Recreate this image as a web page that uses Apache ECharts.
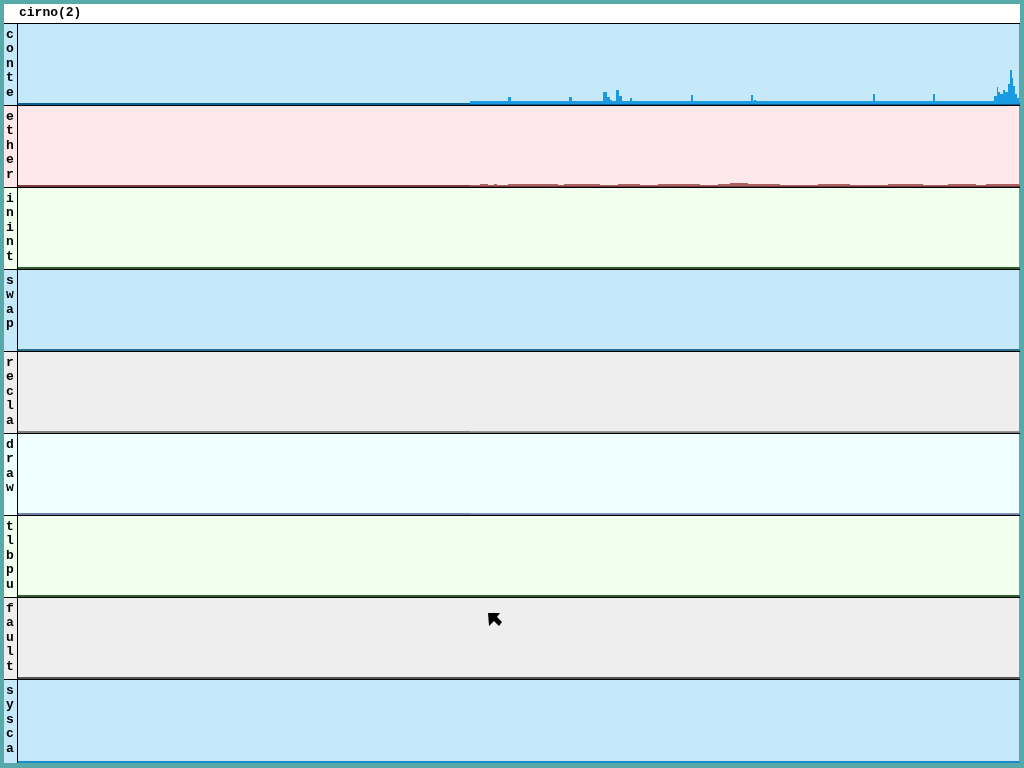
<!DOCTYPE html>
<html><head><meta charset="utf-8">
<script src="https://cdn.jsdelivr.net/npm/echarts@6/dist/echarts.min.js"></script>
<style>html,body{margin:0;padding:0;background:#58AAAA;}#c{width:1024px;height:768px;}</style>
</head><body><div id="c"></div>
<script>
// Panel names (stats graphs)
const panels = ['conte','ether','inint','swap','recla','draw','tlbpu','fault','sysca'];
const windowTitle = 'cirno(2)';
// Samples as [sampleIndex, value] run-lengths (value holds until next sample)
const conteData = [[0,0],[452,3],[490,7],[493,3],[551,7],[554,3],[585,12],[589,7],[592,4],[594,3],[598,14],[601,8],[604,3],[612,6],[614,3],[673,9],[675,3],[733,9],[735,3],[736,4],[738,3],[855,10],[857,3],[915,10],[917,3],[976,8],[979,17],[980,12],[982,10],[985,14],[987,12],[990,20],[992,34],[994,26],[995,18],[997,10],[999,6],[1001,6]];
const etherData = [[0,0],[452,1],[462,2],[470,1],[476,2],[479,1],[490,2],[540,1],[546,2],[582,1],[600,2],[622,1],[640,2],[682,1],[700,2],[712,3],[730,2],[762,1],[800,2],[832,1],[870,2],[905,1],[930,2],[958,1],[968,2],[1001,2]];
const inintData = [[0,0],[1001,0]];
const swapData = [[0,0],[1001,0]];
const reclaData = [[0,0],[452,1],[1001,1]];
const drawData = [[0,0],[452,1],[1001,1]];
const tlbpuData = [[0,0],[1001,0]];
const faultData = [[0,0],[1001,0]];
const syscaData = [[0,0],[1001,0]];
const seriesValues = [conteData, etherData, inintData, swapData, reclaData, drawData, tlbpuData, faultData, syscaData];

const styles = [
  {bg:'#C6E9FA', area:'#1A9AE0', line:'#0A5F98'},
  {bg:'#FFE8EC', area:'#A86060', line:'#7C3A3A'},
  {bg:'#F0FFEE', area:'#70A070', line:'#2F5B2F'},
  {bg:'#C6E9FA', area:'#3A8EB8', line:'#2A6E90'},
  {bg:'#EEEEEE', area:'#999999', line:'#808080'},
  {bg:'#F0FFFF', area:'#8898C0', line:'#7080A8'},
  {bg:'#F0FFEE', area:'#70A070', line:'#2F5B2F'},
  {bg:'#EEEEEE', area:'#777777', line:'#555555'},
  {bg:'#C6E9FA', area:'#1A9AE0', line:'#1A8AC8'}
];
// run-lengths -> [start, end, value] items
function runs(r){
  const out = [];
  for (let k = 0; k + 1 < r.length; k++) if (r[k][1] > 0) out.push([r[k][0], r[k+1][0], r[k][1]]);
  return out;
}
const TOP0 = 24, STEP = 82, H = 80;
const grid = [], xAxis = [], yAxis = [], series = [], graphic = [];
graphic.push({type:'rect', shape:{x:4,y:4,width:1016,height:19}, style:{fill:'#FFFFFF'}, z:0});
graphic.push({type:'text', x:19, y:6, style:{text:windowTitle, font:'bold 13px "Liberation Mono"', fill:'#000'}, z:10});
panels.forEach((name, i) => {
  const top = TOP0 + STEP*i;
  const h = i === panels.length-1 ? 82 : H;
  grid.push({left:18, right:5, top:top, height:h, show:true, backgroundColor:styles[i].bg, borderWidth:0});
  xAxis.push({type:'value', gridIndex:i, min:0, max:1001, show:true,
    axisLine:{show:true, onZero:false, lineStyle:{color:styles[i].line, width:2}},
    axisTick:{show:false}, axisLabel:{show:false}, splitLine:{show:false}});
  yAxis.push({type:'value', gridIndex:i, min:0, max:80, show:false, splitLine:{show:false}});
  const col = styles[i].area;
  series.push({type:'custom', xAxisIndex:i, yAxisIndex:i, data:runs(seriesValues[i]), silent:true, z:3,
    encode:{x:[0,1], y:2},
    renderItem:(params, api) => {
      const p0 = api.coord([api.value(0), 0]);
      const p1 = api.coord([api.value(1), api.value(2)]);
      return {type:'rect', shape:{x:p0[0], y:p1[1], width:p1[0]-p0[0], height:p0[1]-p1[1]}, style:{fill:col}};
    }});
  graphic.push({type:'rect', shape:{x:4,y:top,width:13,height:h+1}, style:{fill:styles[i].bg}, z:0});
  graphic.push({type:'text', x:6, y:top+3, style:{text:name.split('').join('\n'), font:'bold 13px "Liberation Mono"', lineHeight:14.5, fill:'#000'}, z:10});
  graphic.push({type:'line', shape:{x1:4,y1:top-0.5,x2:1020,y2:top-0.5}, style:{stroke:'#000', lineWidth:1}, z:10});
});
graphic.push({type:'line', shape:{x1:17.5,y1:23,x2:17.5,y2:763}, style:{stroke:'#000', lineWidth:1}, z:10});
graphic.push({type:'polygon', shape:{points:[[488,613],[500,613],[497,617],[502,622],[499,626],[494,621],[489,626]]}, style:{fill:'#000'}, z:20});

const chart = echarts.init(document.getElementById('c'), null, {renderer:'canvas'});
chart.setOption({animation:false, backgroundColor:'#58AAAA', grid, xAxis, yAxis, series, graphic});
</script></body></html>
